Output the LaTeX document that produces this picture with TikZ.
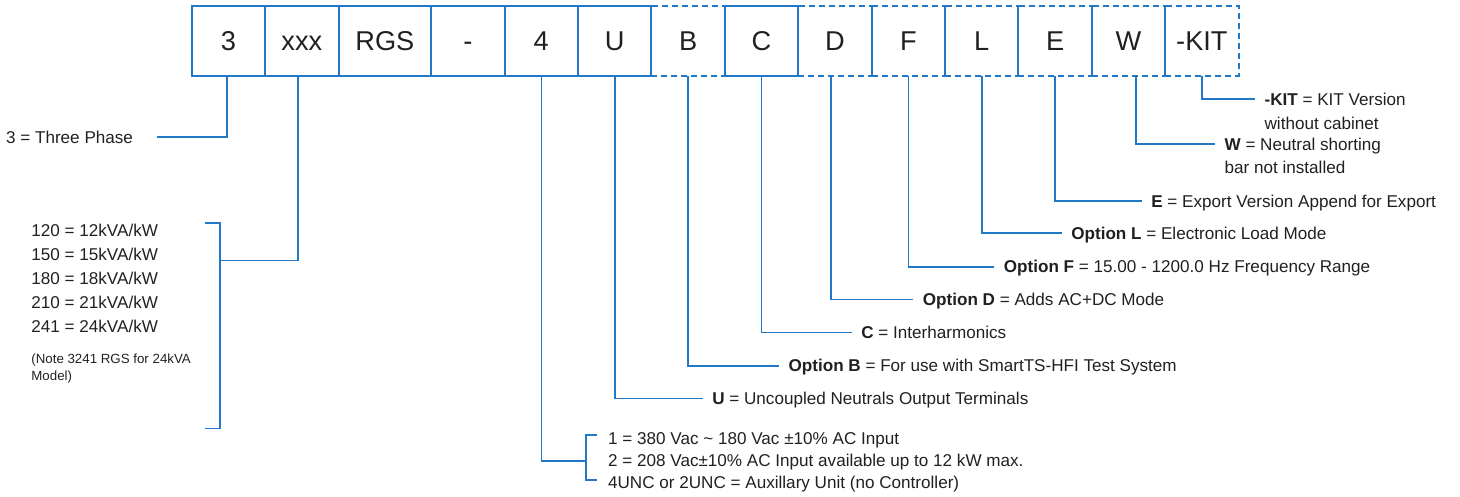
\documentclass[tikz,border=0pt]{standalone}
\usepackage{fontspec}
\setmainfont{Liberation Sans}
\usepackage{tikz}
\definecolor{Pblue}{RGB}{33,120,198}
\definecolor{Ptext}{RGB}{35,31,32}
\usetikzlibrary{positioning}

\begin{document}
\begin{tikzpicture}[x=0.5pt,y=-0.5pt,
    letter/.style={draw=Pblue,line width=1pt,minimum width=36.7pt,minimum height=35pt,
                   inner sep=0pt,outer sep=0pt,text=Ptext,
                   font=\fontsize{13.6}{16}\selectfont,text height=9.7pt,text depth=0pt},
    optbox/.style={letter,dash pattern=on 3pt off 2pt},
    con/.style={draw=Pblue,line width=0.8pt},
    lab/.style={anchor=west,inner xsep=4.6pt,inner ysep=0pt,text=Ptext,
                font=\fontsize{8.55}{11.8}\selectfont,text height=6.1pt,text depth=0pt},
    note/.style={lab,inner xsep=0pt,font=\fontsize{6.65}{8.5}\selectfont,text height=4.8pt}]
\useasboundingbox (0,0) rectangle (1460,497);

% part number
\node[letter,anchor=west] (b3) at (191.7,41) {3};
\node[letter,right=0pt of b3] (bxxx) {xxx};
\node[letter,right=0pt of bxxx,minimum width=46.35pt] (bRGS) {RGS};
\node[letter,right=0pt of bRGS] (bdash) {-};
\node[letter,right=0pt of bdash] (b4) {4};
\node[letter,right=0pt of b4] (bU) {U};
\node[optbox,right=0pt of bU] (bB) {B};
\node[letter,right=0pt of bB] (bC) {C};
\node[optbox,right=0pt of bC] (bD) {D};
\node[optbox,right=0pt of bD] (bF) {F};
\node[optbox,right=0pt of bF] (bL) {L};
\node[optbox,right=0pt of bL] (bE) {E};
\node[optbox,right=0pt of bE] (bW) {W};
\node[optbox,right=0pt of bW] (bKIT) {-KIT};

% left side
\node[lab,inner xsep=0pt] (t3) at (5.7,137) {3 = Three Phase};
\coordinate (c3) at (156.7,137);
\draw[con] ([xshift=-0.8pt]b3.south) |- (c3);

\node[lab,inner xsep=0pt] (k120) at (31,230) {120 = 12kVA/kW};
\node[lab,inner xsep=0pt] (k150) at (31,254) {150 = 15kVA/kW};
\node[lab,inner xsep=0pt] (k180) at (31,278) {180 = 18kVA/kW};
\node[lab,inner xsep=0pt] (k210) at (31,302) {210 = 21kVA/kW};
\node[lab,inner xsep=0pt] (k241) at (31,326) {241 = 24kVA/kW};
\node[note] (n1) at (31,359) {(Note 3241 RGS for 24kVA};
\node[note] (n2) at (31,376) {Model)};
\coordinate (ckva) at (220,260.3);
\draw[con] (205,223.3) -| (220,428.3) -- (205,428.3);
\draw[con] ([xshift=-2pt]bxxx.south) |- (ckva);

% input voltage
\coordinate (c4) at (585.7,460.7);
\draw[con] (597.3,435) -| (585.7,480) -- (597.3,480);
\draw[con] (b4.south) |- (c4);
\node[lab,inner xsep=0pt] (v1) at (607.7,438.5) {1 = 380 Vac \textasciitilde{} 180 Vac ±10\% AC Input};
\node[lab,inner xsep=0pt] (v2) at (607.7,460.5) {2 = 208 Vac±10\% AC Input available up to 12 kW max.};
\node[lab,inner xsep=0pt] (v3) at (607.7,482.5) {4UNC or 2UNC = Auxillary Unit (no Controller)};

% options
\node[lab] (tU) at (702.7,398.3) {{\bf U} = Uncoupled Neutrals Output Terminals};
\node[lab] (tB) at (779,365.7) {{\bf Option B} = For use with SmartTS-HFI Test System};
\node[lab] (tC) at (851.7,332.3) {{\bf C} = Interharmonics};
\node[lab] (tD) at (913.3,299.5) {{\bf Option D} = Adds AC+DC Mode};
\node[lab] (tF) at (994.3,266.7) {{\bf Option F} = 15.00 - 1200.0 Hz Frequency Range};
\node[lab] (tL) at (1061.7,233.3) {{\bf Option L} = Electronic Load Mode};
\node[lab] (tE) at (1141.7,201) {{\bf E} = Export Version Append for Export};
\node[lab] (tW) at (1215,144) {{\bf W} = Neutral shorting};
\node[lab] (tW2) at (1215,167.7) {bar not installed};
\node[lab] (tKIT) at (1255,99.3) {{\bf -KIT} = KIT Version};
\node[lab] (tKIT2) at (1255,123) {without cabinet};

\draw[con] (bU.south) |- (tU.west);
\draw[con] (bB.south) |- (tB.west);
\draw[con] (bC.south) |- (tC.west);
\draw[con] ([xshift=-2pt]bD.south) |- (tD.west);
\draw[con] (bF.south) |- (tF.west);
\draw[con] (bL.south) |- (tL.west);
\draw[con] (bE.south) |- (tE.west);
\draw[con] ([xshift=3.75pt]bW.south) |- (tW.west);
\draw[con] (bKIT.south) |- (tKIT.west);
\end{tikzpicture}
\end{document}
